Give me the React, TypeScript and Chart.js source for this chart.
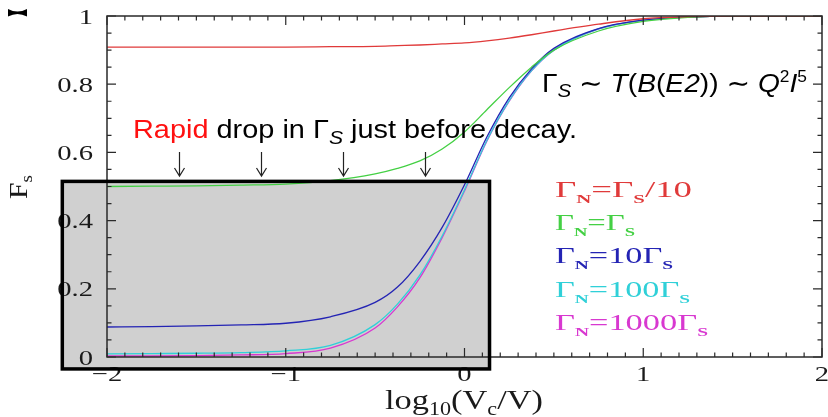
import React, { useEffect, useRef } from 'react';
import { Chart, registerables } from 'chart.js';
Chart.register(...registerables);

// ---- data ----
const xValues = [-2, -1.75, -1.5, -1.25, -1, -0.75, -0.5, -0.375, -0.25, -0.125, 0, 0.125, 0.25, 0.375, 0.5, 0.75, 1, 1.25, 1.5, 1.75, 2];
const redValues = [0.909, 0.909, 0.909, 0.909, 0.909, 0.91, 0.911, 0.913, 0.915, 0.918, 0.921, 0.927, 0.935, 0.945, 0.956, 0.976, 0.992, 0.998, 1, 1, 1];
const greenValues = [0.5, 0.501, 0.502, 0.504, 0.507, 0.517, 0.537, 0.553, 0.575, 0.61, 0.66, 0.725, 0.79, 0.85, 0.9, 0.956, 0.984, 0.996, 1, 1, 1];
const blueValues = [0.088, 0.089, 0.091, 0.094, 0.099, 0.118, 0.16, 0.205, 0.28, 0.38, 0.505, 0.645, 0.76, 0.845, 0.905, 0.963, 0.988, 0.997, 1, 1, 1];
const cyanValues = [0.009, 0.01, 0.011, 0.013, 0.018, 0.034, 0.095, 0.155, 0.24, 0.355, 0.49, 0.635, 0.752, 0.84, 0.9, 0.962, 0.988, 0.997, 1, 1, 1];
const magentaValues = [0.003, 0.003, 0.004, 0.006, 0.01, 0.026, 0.085, 0.147, 0.232, 0.35, 0.487, 0.633, 0.75, 0.839, 0.9, 0.962, 0.988, 0.997, 1, 1, 1];

const seriesLabels = ['ΓN=ΓS/10', 'ΓN=ΓS', 'ΓN=10ΓS', 'ΓN=100ΓS', 'ΓN=1000ΓS'];
const seriesColors = ['#e03a3a', '#44d044', '#2424b4', '#30d0d8', '#d838d0'];

const xTickValues = [-2, -1, 0, 1, 2];
const xTickLabels = ['−2', '−1', '0', '1', '2'];
const yTickValues = [0, 0.2, 0.4, 0.6, 0.8, 1];
const yTickLabels = ['0', '0.2', '0.4', '0.6', '0.8', '1'];
const arrowXValues = [-1.6, -1.14, -0.68, -0.22];

type Run = { t: string; font: string; dy?: number; color?: string };

const SERIF = '"Liberation Serif", "DejaVu Serif", serif';
const SANS = '"Liberation Sans", Arial, "DejaVu Sans", sans-serif';

function runsWidth(ctx: CanvasRenderingContext2D, runs: Run[]) {
  let w = 0;
  for (const r of runs) {
    ctx.font = r.font;
    w += ctx.measureText(r.t).width;
  }
  return w;
}

function drawRuns(ctx: CanvasRenderingContext2D, runs: Run[], x: number, y: number, targetW: number, color: string) {
  const nat = runsWidth(ctx, runs);
  const sx = targetW > 0 ? targetW / nat : 1;
  ctx.save();
  ctx.translate(x, y);
  ctx.scale(sx, 1);
  ctx.textBaseline = 'alphabetic';
  ctx.textAlign = 'left';
  let cx = 0;
  for (const r of runs) {
    ctx.font = r.font;
    ctx.fillStyle = r.color || color;
    ctx.fillText(r.t, cx, r.dy || 0);
    cx += ctx.measureText(r.t).width;
  }
  ctx.restore();
}

function legendRuns(label: string): Run[] {
  // N and S are subscripts
  const runs: Run[] = [];
  const big = `23px ${SERIF}`;
  const sub = `bold 13px ${SERIF}`;
  for (const ch of label) {
    if (ch === 'N' || ch === 'S') runs.push({ t: ch, font: sub, dy: 6 });
    else runs.push({ t: ch, font: big });
  }
  return runs;
}

const overlayPlugin = {
  id: 'overlay',
  beforeDraw(chart: any) {
    const ctx: CanvasRenderingContext2D = chart.ctx;
    ctx.save();
    ctx.fillStyle = '#ffffff';
    ctx.fillRect(0, 0, chart.width, chart.height);
    const xs = chart.scales.x;
    const ys = chart.scales.y;
    const bx0 = xs.getPixelForValue(-2.25);
    const bx1 = xs.getPixelForValue(0.14);
    const by0 = ys.getPixelForValue(0.515);
    const by1 = ys.getPixelForValue(-0.035);
    ctx.fillStyle = '#d0d0d0';
    ctx.fillRect(bx0, by0, bx1 - bx0, by1 - by0);
    ctx.restore();
  },
  afterDraw(chart: any) {
    const ctx: CanvasRenderingContext2D = chart.ctx;
    const xs = chart.scales.x;
    const ys = chart.scales.y;
    const { left, right, top, bottom } = chart.chartArea;
    ctx.save();

    // frame
    ctx.strokeStyle = '#2a2a2a';
    ctx.lineWidth = 1.5;
    ctx.strokeRect(left, top, right - left, bottom - top);

    // ticks
    ctx.lineWidth = 1.2;
    ctx.beginPath();
    for (let i = 0; i <= 40; i++) {
      const v = -2 + i * 0.1;
      const px = xs.getPixelForValue(v);
      const len = i % 10 === 0 ? 9 : 4.5;
      ctx.moveTo(px, bottom);
      ctx.lineTo(px, bottom - len);
      ctx.moveTo(px, top);
      ctx.lineTo(px, top + len);
    }
    for (let i = 0; i <= 20; i++) {
      const v = i * 0.05;
      const py = ys.getPixelForValue(v);
      const len = i % 4 === 0 ? 9 : 4.5;
      ctx.moveTo(left, py);
      ctx.lineTo(left + len, py);
      ctx.moveTo(right, py);
      ctx.lineTo(right - len, py);
    }
    ctx.stroke();

    // tick labels
    const tickFont = `22px ${SERIF}`;
    const tsx = 1.3;
    ctx.font = tickFont;
    ctx.textBaseline = 'alphabetic';
    yTickValues.forEach((v, i) => {
      ctx.font = tickFont;
      const w = ctx.measureText(yTickLabels[i]).width * tsx;
      const py = ys.getPixelForValue(v);
      drawRuns(ctx, [{ t: yTickLabels[i], font: tickFont }], left - 14 - w, py + 7.5, w, '#1a1a1a');
    });
    xTickValues.forEach((v, i) => {
      ctx.font = tickFont;
      const w = ctx.measureText(xTickLabels[i]).width * tsx;
      const px = xs.getPixelForValue(v);
      drawRuns(ctx, [{ t: xTickLabels[i], font: tickFont }], px - w / 2, bottom + 24, w, '#1a1a1a');
    });

    // axis titles
    drawRuns(
      ctx,
      [
        { t: 'log', font: `28px ${SERIF}` },
        { t: '10', font: `18px ${SERIF}`, dy: 6 },
        { t: '(V', font: `28px ${SERIF}` },
        { t: 'c', font: `18px ${SERIF}`, dy: 6 },
        { t: '/V)', font: `28px ${SERIF}` },
      ],
      385,
      409,
      158,
      '#1a1a1a'
    );
    ctx.save();
    ctx.translate(27, 199);
    ctx.rotate(-Math.PI / 2);
    drawRuns(ctx, [{ t: 'F', font: `25px ${SERIF}` }, { t: 's', font: `16px ${SERIF}`, dy: 5 }], 0, 0, 24, '#1a1a1a');
    ctx.restore();

    // grey box border
    const bx0 = xs.getPixelForValue(-2.25);
    const bx1 = xs.getPixelForValue(0.14);
    const by0 = ys.getPixelForValue(0.515);
    const by1 = ys.getPixelForValue(-0.035);
    ctx.strokeStyle = '#000000';
    ctx.lineWidth = 3.5;
    ctx.strokeRect(bx0, by0, bx1 - bx0, by1 - by0);

    // legend
    const widths = [137, 80, 118, 135, 153];
    seriesLabels.forEach((lab, i) => {
      drawRuns(ctx, legendRuns(lab), 555, 197 + i * 33.2, widths[i], seriesColors[i]);
    });

    // annotation
    drawRuns(
      ctx,
      [
        { t: 'Rapid', font: `26px ${SANS}`, color: '#ff1010' },
        { t: ' drop in Γ', font: `26px ${SANS}` },
        { t: 'S', font: `italic 19px ${SANS}`, dy: 6 },
        { t: ' just before decay.', font: `26px ${SANS}` },
      ],
      133,
      138,
      444,
      '#000000'
    );

    // formula
    const F = `26px ${SANS}`;
    const FI = `italic 26px ${SANS}`;
    drawRuns(
      ctx,
      [
        { t: 'Γ', font: F },
        { t: 'S', font: `italic 19px ${SANS}`, dy: 5 },
        { t: ' ∼ ', font: F },
        { t: 'T', font: FI },
        { t: '(', font: F },
        { t: 'B', font: FI },
        { t: '(', font: F },
        { t: 'E2', font: FI },
        { t: ')) ∼ ', font: F },
        { t: 'Q', font: FI },
        { t: '2', font: `16px ${SANS}`, dy: -10 },
        { t: 'I', font: FI },
        { t: '5', font: `16px ${SANS}`, dy: -10 },
      ],
      542,
      92,
      265,
      '#000000'
    );

    // arrows
    ctx.strokeStyle = '#222222';
    ctx.lineWidth = 1.2;
    arrowXValues.forEach((v) => {
      const px = Math.round(xs.getPixelForValue(v)) + 0.5;
      ctx.beginPath();
      ctx.moveTo(px, 152);
      ctx.lineTo(px, 176);
      ctx.moveTo(px - 5, 168);
      ctx.lineTo(px, 176);
      ctx.lineTo(px + 5, 168);
      ctx.stroke();
    });

    // small mark top-left
    ctx.fillStyle = '#000000';
    ctx.beginPath();
    ctx.moveTo(8, 9);
    ctx.quadraticCurveTo(17.5, 14, 27, 9);
    ctx.lineTo(27, 16.5);
    ctx.quadraticCurveTo(17.5, 11.5, 8, 16.5);
    ctx.closePath();
    ctx.fill();

    ctx.restore();
  },
};

export default function App() {
  const ref = useRef<HTMLCanvasElement | null>(null);
  useEffect(() => {
    document.body.style.margin = '0';
    const canvas = ref.current;
    if (!canvas) return;
    const series = [redValues, greenValues, blueValues, cyanValues, magentaValues];
    const chart = new Chart(canvas, {
      type: 'line',
      data: {
        datasets: series.map((vals, i) => ({
          label: seriesLabels[i],
          data: xValues.map((x, j) => ({ x, y: vals[j] })),
          borderColor: seriesColors[i],
          borderWidth: 1.3,
          pointRadius: 0,
          fill: false,
          cubicInterpolationMode: 'monotone' as const,
        })),
      },
      options: {
        responsive: false,
        animation: false,
        devicePixelRatio: 1,
        layout: { padding: { left: 107, top: 16, right: 6, bottom: 60 } },
        plugins: { legend: { display: false }, tooltip: { enabled: false } },
        scales: {
          x: { type: 'linear', min: -2, max: 2, display: false },
          y: { type: 'linear', min: 0, max: 1, display: false },
        },
      },
      plugins: [overlayPlugin],
    });
    return () => chart.destroy();
  }, []);
  return (
    <div style={{ width: 828, height: 417 }}>
      <canvas ref={ref} width={828} height={417} style={{ display: 'block' }} />
    </div>
  );
}
